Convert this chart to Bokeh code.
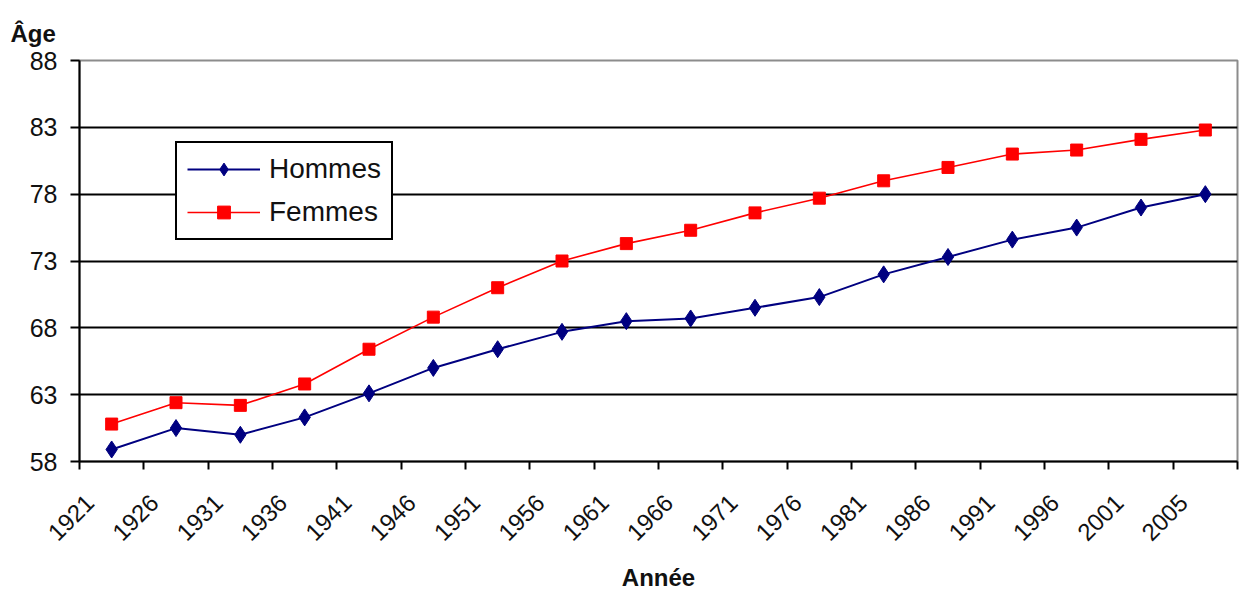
import math
from bokeh.plotting import figure
from bokeh.models import (Range1d, FixedTicker, Legend, LegendItem, Title, ColumnDataSource)
from bokeh.embed import file_html
from bokeh.resources import INLINE

# ---- data ----
years = ["1921", "1926", "1931", "1936", "1941", "1946", "1951", "1956", "1961",
         "1966", "1971", "1976", "1981", "1986", "1991", "1996", "2001", "2005"]
hommes = [58.9, 60.5, 60.0, 61.3, 63.1, 65.0, 66.4, 67.7, 68.5,
          68.7, 69.5, 70.3, 72.0, 73.3, 74.6, 75.5, 77.0, 78.0]
femmes = [60.8, 62.4, 62.2, 63.8, 66.4, 68.8, 71.0, 73.0, 74.3,
          75.3, 76.6, 77.7, 79.0, 80.0, 81.0, 81.3, 82.1, 82.8]
y_ticks = [58, 63, 68, 73, 78, 83, 88]

# category geometry (label anchor at integer k, category boundary to its left)
n = len(years)
b_off = -0.16
c_off = b_off + 0.5
xs = [k + c_off for k in range(n)]
boundaries = [k + b_off for k in range(n + 1)]

W, H = 1240, 597
FONT = "Liberation Sans"

p = figure(width=W, height=H, output_backend="svg", toolbar_location=None,
           x_range=Range1d(b_off, n + b_off), y_range=Range1d(58, 88),
           min_border_left=79, min_border_right=3, min_border_top=60,
           min_border_bottom=H - 461, background_fill_color="white",
           border_fill_color="white")

p.outline_line_color = "#8c8c8c"
p.outline_line_width = 2

p.xgrid.visible = False
p.ygrid.ticker = FixedTicker(ticks=y_ticks[1:-1])
p.ygrid.grid_line_color = "black"
p.ygrid.grid_line_width = 2

# y axis
ya = p.yaxis[0]
ya.ticker = FixedTicker(ticks=y_ticks)
ya.axis_line_color = "black"
ya.axis_line_width = 2
ya.major_tick_line_color = "black"
ya.major_tick_line_width = 2
ya.major_tick_out = 9
ya.major_tick_in = 0
ya.minor_tick_line_color = None
ya.major_label_text_font = FONT
ya.major_label_text_font_size = "25px"
ya.major_label_text_color = "#111111"
ya.major_label_standoff = 13

# x axis
xa = p.xaxis[0]
xa.ticker = FixedTicker(ticks=list(range(n)), minor_ticks=boundaries)
xa.major_label_overrides = {k: years[k] for k in range(n)}
xa.major_label_orientation = math.pi / 4
xa.major_tick_line_color = None
xa.minor_tick_line_color = "black"
xa.minor_tick_line_width = 2
xa.minor_tick_out = 8
xa.minor_tick_in = 0
xa.axis_line_color = "black"
xa.axis_line_width = 2
xa.major_label_text_font = FONT
xa.major_label_text_font_size = "24px"
xa.major_label_text_color = "#111111"
xa.major_label_standoff = 29
xa.axis_label = "Année"
xa.axis_label_text_font = FONT
xa.axis_label_text_font_style = "bold"
xa.axis_label_text_font_size = "24px"
xa.axis_label_text_color = "#111111"
xa.axis_label_standoff = 13

src = ColumnDataSource(dict(x=xs, h=hommes, f=femmes))

lh = p.line("x", "h", source=src, line_color="#000080", line_width=2)
mh = p.scatter("x", "h", source=src, marker="diamond", size=17,
               fill_color="#000080", line_color="#000080")
lf = p.line("x", "f", source=src, line_color="#ff0000", line_width=1.6)
mf = p.scatter("x", "f", source=src, marker="square", size=12,
               fill_color="#ff0000", line_color="#ff0000")

legend = Legend(items=[LegendItem(label="Hommes", renderers=[lh, mh]),
                       LegendItem(label="Femmes", renderers=[lf, mf])],
                location=(96, 221))
legend.border_line_color = "black"
legend.border_line_alpha = 1.0
legend.border_line_width = 2
legend.background_fill_color = "white"
legend.background_fill_alpha = 1
legend.label_text_font = FONT
legend.label_text_font_size = "28px"
legend.label_text_color = "#111111"
legend.glyph_width = 73
legend.glyph_height = 32
legend.label_height = 32
legend.label_standoff = 9
legend.padding = 10
legend.spacing = 11
legend.margin = 0
p.add_layout(legend, "center")

# "Âge" at the top-left, as a left-aligned title shifted over the y labels
age = Title(text="Âge", align="left", offset=-69, standoff=28,
            text_font=FONT, text_font_style="bold", text_font_size="24px",
            text_color="#111111")
p.add_layout(age, "above")

open("out.html", "w").write(file_html(p, INLINE))
